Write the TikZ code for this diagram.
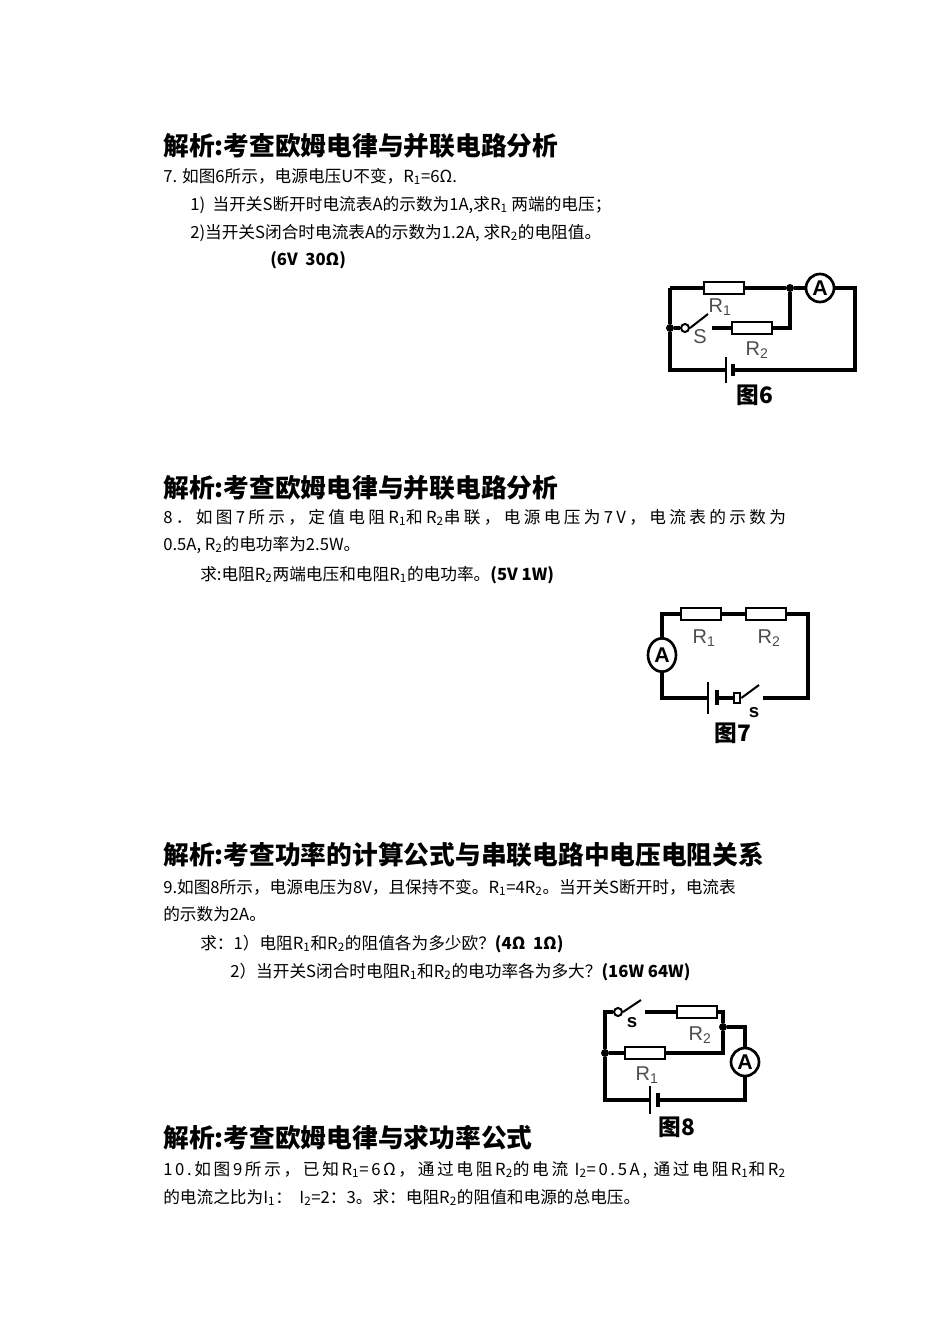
\documentclass[tikz,border=0pt]{standalone}
\usepackage{fontspec}
\usetikzlibrary{shapes.geometric}
\setmainfont{Liberation Serif}
\newfontfamily\cjk{Noto Sans CJK SC}
\newfontfamily\lab{Liberation Sans}
\begin{document}
\begin{tikzpicture}[x=0.75pt,y=-0.75pt,
  wire/.style={line width=2.3pt},
  res/.style={draw,line width=2pt,fill=white,minimum width=30pt,minimum height=9pt,inner sep=0},
  amm/.style={draw,circle,line width=2pt,fill=white,minimum size=21pt,inner sep=0,font=\lab\bfseries\fontsize{16}{16}\selectfont},
  dot/.style={circle,fill,inner sep=0,minimum size=6pt},
  term/.style={draw,circle,line width=1.5pt,fill=white,inner sep=0,minimum size=6pt},
  lbl/.style={font=\lab\fontsize{15}{15}\selectfont,text=black!70},
  slbl/.style={font=\lab\bfseries\fontsize{14}{14}\selectfont},
  figcap/.style={font=\cjk\bfseries\fontsize{17}{17}\selectfont},
  head/.style={anchor=base west,inner sep=0,font=\cjk\bfseries\fontsize{19.3}{19.3}\selectfont},
  body/.style={anchor=base west,inner sep=0,font=\cjk\fontsize{12.5}{12.5}\selectfont}]
\useasboundingbox (0,0) rectangle (950,1342);
% ---------- texts
\node[head] (h1) at (163,155) {解析:考查欧姆电律与并联电路分析};
\node[body] (t1) at (163,182) {7. 如图6所示，电源电压U不变，R\textsubscript{1}=6Ω.};
\node[body] (t2) at (190,210) {1)\ \ 当开关S断开时电流表A的示数为1A,求R\textsubscript{1} 两端的电压；};
\node[body] (t3) at (190,238) {2)当开关S闭合时电流表A的示数为1.2A, 求R\textsubscript{2}的电阻值。};
\node[body] (t4) at (270,265) {\bfseries (6V\ \ 30Ω)};
\node[head] (h2) at (163,497) {解析:考查欧姆电律与并联电路分析};
\node[body] (t5) at (163,523) {\addfontfeature{LetterSpace=20}8．如图7所示，定值电阻R\textsubscript{1}和R\textsubscript{2}串联，电源电压为7V，电流表的示数为};
\node[body] (t6) at (163,550) {0.5A, R\textsubscript{2}的电功率为2.5W。};
\node[body] (t7) at (200,580) {求:电阻R\textsubscript{2}两端电压和电阻R\textsubscript{1}的电功率。\bfseries(5V 1W)};
\node[head] (h3) at (163,864) {解析:考查功率的计算公式与串联电路中电压电阻关系};
\node[body] (t8) at (163,893) {9.如图8所示，电源电压为8V，且保持不变。R\textsubscript{1}=4R\textsubscript{2}。当开关S断开时，电流表};
\node[body] (t9) at (163,920) {的示数为2A。};
\node[body] (t10) at (200,949) {求：1）电阻R\textsubscript{1}和R\textsubscript{2}的阻值各为多少欧？\bfseries(4Ω\ \ 1Ω)};
\node[body] (t11) at (230,977) {2）当开关S闭合时电阻R\textsubscript{1}和R\textsubscript{2}的电功率各为多大？\bfseries(16W 64W)};
\node[head] (h4) at (163,1147) {解析:考查欧姆电律与求功率公式};
\node[body] (t12) at (163,1175) {\addfontfeature{LetterSpace=16}10.如图9所示，已知R\textsubscript{1}=6Ω，通过电阻R\textsubscript{2}的电流 I\textsubscript{2}=0.5A, 通过电阻R\textsubscript{1}和R\textsubscript{2}};
\node[body] (t13) at (163,1203) {的电流之比为I\textsubscript{1}：\ \ I\textsubscript{2}=2：3。求：电阻R\textsubscript{2}的阻值和电源的总电压。};
% ---------- Fig 6
\coordinate (a1) at (670,288); \coordinate (a2) at (855,288);
\coordinate (a3) at (855,370); \coordinate (a4) at (670,370);
\node[dot] (aj) at (670,328) {};
\node[dot] (ak) at (790,288) {};
\coordinate (ak2) at (790,328);
\node[res] (ar1) at (724,288) {};
\node[res] (ar2) at (752,328) {};
\node[amm] (aA) at (820,288) {A};
\node[term] (as) at (685,328) {};
\coordinate (asb) at (708,314);
\coordinate (asr) at (712,328);
\coordinate (ab1) at (726,370); \coordinate (ab2) at (733,370);
\draw[wire] (a1) -- (ar1) -- (ak) -- (aA) -- (a2) -- (a3) -- (ab2);
\draw[wire] (ab1) -- (a4) -- (aj) -- (a1);
\draw[wire] (aj) -- (as);
\draw[line width=1.5pt] (as.east) -- (asb);
\draw[wire] (asr) -- (ar2) -- (ak2) -- (ak);
\draw[line width=2pt] (726,357) -- (726,383);
\draw[line width=3pt] (733,364) -- (733,376);
\node[lbl] (aR1) at (720,307) {R\textsubscript{1}};
\node[lbl] (aR2) at (757,350) {R\textsubscript{2}};
\node[lbl] (aS) at (700,337) {S};
\node[figcap] (ac) at (755,395) {图6};
% ---------- Fig 7
\coordinate (b1) at (662,614); \coordinate (b2) at (808,614);
\coordinate (b3) at (808,698); \coordinate (b4) at (662,698);
\node[res] (br1) at (701,614) {};
\node[res] (br2) at (766,614) {};
\node[amm,ellipse,minimum width=21pt,minimum height=25pt] (bA) at (662,655) {A};
\coordinate (bb1) at (708,698); \coordinate (bb2) at (717,698);
\node[draw,line width=1.5pt,fill=white,inner sep=0,minimum width=5pt,minimum height=7pt] (bs) at (737,698) {};
\coordinate (bsb) at (759,685);
\coordinate (bsr) at (763,698);
\draw[wire] (bA) -- (b1) -- (br1) -- (br2) -- (b2) -- (b3) -- (bsr);
\draw[wire] (bA) -- (b4) -- (bb1);
\draw[wire] (bb2) -- (bs);
\draw[line width=1.5pt] (bs.east) -- (bsb);
\draw[line width=2pt] (708,682) -- (708,714);
\draw[line width=3pt] (717,690) -- (717,705);
\node[lbl] (bR1) at (704,638) {R\textsubscript{1}};
\node[lbl] (bR2) at (769,638) {R\textsubscript{2}};
\node[slbl] (bS) at (754,713) {s};
\node[figcap] (bc) at (733,733) {图7};
% ---------- Fig 8
\coordinate (c1) at (605,1012); \coordinate (c4) at (605,1100);
\node[dot] (cj) at (605,1053) {};
\node[dot] (ck) at (723,1027) {};
\node[term] (cs) at (618,1012) {};
\coordinate (csb) at (641,1000);
\coordinate (csr) at (645,1012);
\node[res] (cr2) at (697,1012) {};
\node[res] (cr1) at (645,1053) {};
\coordinate (ct) at (723,1012);
\coordinate (cb) at (723,1053);
\coordinate (ca1) at (745,1027);
\node[amm] (cA) at (745,1062) {A};
\coordinate (ca2) at (745,1100);
\coordinate (cb1) at (650,1100); \coordinate (cb2) at (658,1100);
\draw[wire] (cs) -- (c1) -- (cj) -- (c4) -- (cb1);
\draw[line width=1.5pt] (cs.east) -- (csb);
\draw[wire] (csr) -- (cr2) -- (ct) -- (ck) -- (ca1) -- (cA) -- (ca2) -- (cb2);
\draw[wire] (cj) -- (cr1) -- (cb) -- (ck);
\draw[line width=2pt] (650,1086) -- (650,1114);
\draw[line width=3pt] (658,1093) -- (658,1107);
\node[lbl] (cR2) at (700,1035) {R\textsubscript{2}};
\node[lbl] (cR1) at (647,1075) {R\textsubscript{1}};
\node[slbl] (cS) at (632,1023) {s};
\node[figcap] (cc) at (677,1127) {图8};
\end{tikzpicture}
\end{document}
